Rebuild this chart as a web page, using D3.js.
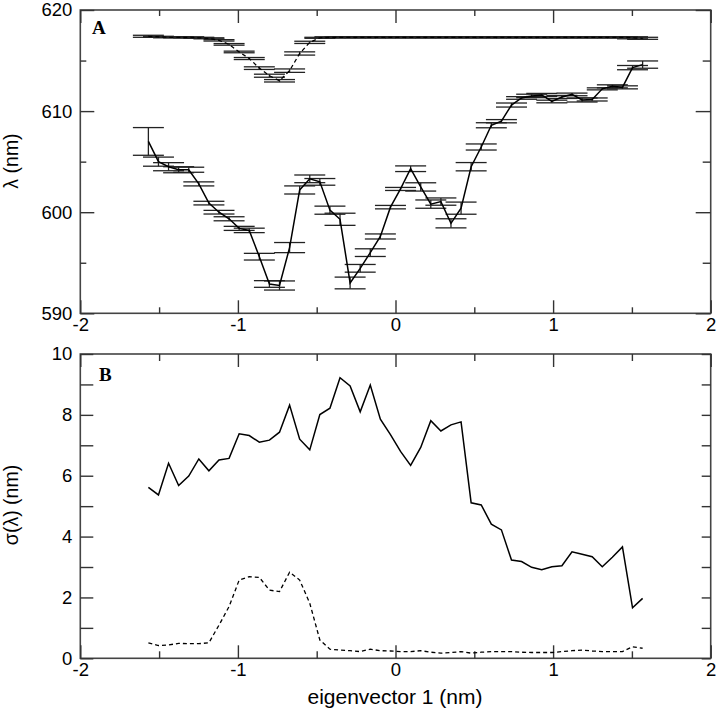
<!DOCTYPE html>
<html>
<head>
<meta charset="utf-8">
<script src="https://cdn.jsdelivr.net/npm/d3@7"></script>
<style>
  html, body { margin: 0; padding: 0; background: #fff; }
  svg { display: block; }
  .tick text { font-family: "Liberation Sans", Arial, sans-serif; font-size: 18.5px; fill: #000; }
</style>
</head>
<body>
<svg id="chart" width="720" height="720"></svg>
<script>
// ---------- data ----------
const eig = [-1.568,-1.504,-1.440,-1.376,-1.312,-1.248,-1.184,-1.120,-1.056,-0.992,
             -0.928,-0.864,-0.800,-0.736,-0.672,-0.608,-0.544,-0.480,-0.416,-0.352,
             -0.288,-0.224,-0.160,-0.096,-0.032, 0.032, 0.096, 0.160, 0.224, 0.288,
              0.352, 0.416, 0.480, 0.544, 0.608, 0.672, 0.736, 0.800, 0.864, 0.928,
              0.992, 1.056, 1.120, 1.184, 1.248, 1.312, 1.376, 1.440, 1.504, 1.568];

// panel A: mean wavelength (solid) with error
const lambdaSolid = [607.0,605.0,604.5,604.2,604.2,602.8,600.9,600.0,599.35,598.4,
                     598.2,595.6,592.9,592.75,596.5,602.2,603.3,603.0,600.2,599.3,
                     593.0,594.45,596.0,597.6,600.5,602.3,604.3,602.5,600.8,601.05,
                     598.9,600.4,604.5,606.45,608.6,609.0,610.6,611.3,611.5,611.6,
                     610.95,611.4,611.65,611.1,611.15,612.2,612.45,612.35,614.3,614.6];
const lambdaSolidErr = [1.37,0.45,0.4,0.3,0.25,0.2,0.18,0.18,0.2,0.2,
                        0.22,0.33,0.33,0.45,0.5,0.4,0.38,0.33,0.4,0.6,
                        0.58,0.38,0.38,0.25,0.17,0.15,0.28,0.41,0.41,0.36,
                        0.45,0.6,0.41,0.3,0.25,0.16,0.2,0.13,0.17,0.15,
                        0.13,0.15,0.13,0.2,0.15,0.1,0.15,0.15,0.21,0.36];
// panel A: mean wavelength (dashed) with error
const lambdaDashed = [617.4,617.35,617.3,617.3,617.3,617.25,617.2,617.0,616.6,615.85,
                      615.2,614.25,613.5,613.0,614.0,615.7,616.8,617.25,617.3,617.3,
                      617.3,617.3,617.3,617.3,617.3,617.3,617.3,617.3,617.3,617.3,
                      617.3,617.3,617.3,617.3,617.3,617.3,617.3,617.3,617.3,617.3,
                      617.3,617.3,617.3,617.3,617.3,617.3,617.3,617.3,617.25,617.2];
const lambdaDashedErr = [0.1,0.05,0.05,0.05,0.05,0.05,0.05,0.07,0.08,0.08,
                         0.1,0.13,0.15,0.12,0.17,0.16,0.11,0.05,0.05,0.05,
                         0.05,0.05,0.05,0.05,0.05,0.05,0.05,0.05,0.05,0.05,
                         0.05,0.05,0.05,0.05,0.05,0.05,0.05,0.05,0.05,0.05,
                         0.05,0.05,0.05,0.05,0.05,0.05,0.05,0.05,0.1,0.1];

// panel B: standard deviation of wavelength
const sigmaSolid = [5.62,5.37,6.41,5.68,5.99,6.55,6.16,6.52,6.57,7.38,
                    7.32,7.10,7.17,7.43,8.32,7.20,6.85,8.01,8.22,9.22,
                    8.95,8.10,8.98,7.86,7.35,6.80,6.34,6.93,7.81,7.47,
                    7.67,7.77,5.11,5.04,4.41,4.22,3.23,3.18,2.99,2.91,
                    3.01,3.04,3.50,3.42,3.34,3.01,3.32,3.66,1.66,1.97];
const sigmaDashed = [0.51,0.42,0.44,0.49,0.48,0.48,0.51,1.09,1.70,2.57,
                     2.68,2.66,2.24,2.19,2.83,2.57,1.81,0.60,0.30,0.27,
                     0.25,0.22,0.30,0.25,0.24,0.22,0.22,0.25,0.20,0.17,
                     0.19,0.22,0.17,0.20,0.22,0.22,0.22,0.20,0.19,0.19,
                     0.19,0.22,0.25,0.27,0.24,0.22,0.22,0.22,0.38,0.33];

const xTicksMajor = [-2,-1,0,1,2];
const xTicksMinor = [-1.5,-0.5,0.5,1.5];
const yATicksMajor = [590,600,610,620];
const yATicksMinor = [595,605,615];
const yBTicksLabeled = [0,2,4,6,8,10];
const yBTicksAll = [0,1,2,3,4,5,6,7,8,9,10];

// ---------- drawing ----------
const svg = d3.select("#chart");
svg.append("rect").attr("width",720).attr("height",720).attr("fill","#fff");

const x = d3.scaleLinear().domain([-2,2]).range([80.3,710.7]);
const yA = d3.scaleLinear().domain([590,620]).range([313.3,10]);
const yB = d3.scaleLinear().domain([0,10]).range([658.3,354]);

function frame(top, bottom) {
  svg.append("rect")
    .attr("x", x.range()[0]).attr("y", top)
    .attr("width", x.range()[1]-x.range()[0]).attr("height", bottom-top)
    .attr("fill","none").attr("stroke","#444").attr("stroke-width",1.6);
}

function styleAxis(g) {
  g.select(".domain").remove();
  g.selectAll(".tick line").attr("stroke","#333").attr("stroke-width",1.4);
}

function xAxes(top, bottom, majorLen, minorLen) {
  svg.append("g").attr("transform",`translate(0,${bottom})`)
    .call(d3.axisBottom(x).tickValues(xTicksMajor).tickSize(-majorLen).tickPadding(5)
      .tickFormat(d => d3.format("d")(d).replace("−","-")))
    .call(styleAxis);
  svg.append("g").attr("transform",`translate(0,${bottom})`)
    .call(d3.axisBottom(x).tickValues(xTicksMinor).tickSize(-minorLen).tickFormat(""))
    .call(styleAxis);
  svg.append("g").attr("transform",`translate(0,${top})`)
    .call(d3.axisTop(x).tickValues(xTicksMajor).tickSize(-majorLen).tickFormat(""))
    .call(styleAxis);
  svg.append("g").attr("transform",`translate(0,${top})`)
    .call(d3.axisTop(x).tickValues(xTicksMinor).tickSize(-minorLen).tickFormat(""))
    .call(styleAxis);
}

// ---------- Panel A ----------
frame(yA.range()[1], yA.range()[0]);
xAxes(yA.range()[1], yA.range()[0], 13, 6);
svg.append("g").attr("transform",`translate(${x.range()[0]},0)`)
  .call(d3.axisLeft(yA).tickValues(yATicksMajor).tickSize(-14).tickPadding(8).tickFormat(d3.format("d")))
  .call(styleAxis);
svg.append("g").attr("transform",`translate(${x.range()[0]},0)`)
  .call(d3.axisLeft(yA).tickValues(yATicksMinor).tickSize(-6).tickFormat(""))
  .call(styleAxis);
svg.append("g").attr("transform",`translate(${x.range()[1]},0)`)
  .call(d3.axisRight(yA).tickValues(yATicksMajor).tickSize(-15).tickFormat(""))
  .call(styleAxis);
svg.append("g").attr("transform",`translate(${x.range()[1]},0)`)
  .call(d3.axisRight(yA).tickValues(yATicksMinor).tickSize(-8).tickFormat(""))
  .call(styleAxis);

const capHalf = 15.5;
function errorBars(vals, errs, yScale) {
  const g = svg.append("g").attr("stroke","#222").attr("stroke-width",1.3).attr("fill","none");
  vals.forEach((v,i) => {
    const cx = x(eig[i]);
    const y1 = yScale(v+errs[i]), y2 = yScale(v-errs[i]);
    g.append("line").attr("x1",cx).attr("x2",cx).attr("y1",y1).attr("y2",y2);
    g.append("line").attr("x1",cx-capHalf).attr("x2",cx+capHalf).attr("y1",y1).attr("y2",y1);
    g.append("line").attr("x1",cx-capHalf).attr("x2",cx+capHalf).attr("y1",y2).attr("y2",y2);
  });
}
errorBars(lambdaDashed, lambdaDashedErr, yA);
errorBars(lambdaSolid, lambdaSolidErr, yA);

const lineA = d3.line().x((d,i)=>x(eig[i])).y(d=>yA(d));
svg.append("path").datum(lambdaSolid).attr("d",lineA)
  .attr("fill","none").attr("stroke","#000").attr("stroke-width",1.5);
svg.append("path").datum(lambdaDashed).attr("d",lineA)
  .attr("fill","none").attr("stroke","#000").attr("stroke-width",1.3).attr("stroke-dasharray","4,3");

svg.append("text").attr("x",92).attr("y",33.5).text("A")
  .attr("font-family","'Liberation Serif', 'Times New Roman', serif").attr("font-weight","bold")
  .attr("font-size",19);

svg.append("text").attr("transform","translate(18,161) rotate(-90)")
  .attr("text-anchor","middle")
  .attr("font-family","'Liberation Sans', Arial, sans-serif").attr("font-size",19.5)
  .text("λ (nm)");

// ---------- Panel B ----------
frame(yB.range()[1], yB.range()[0]);
xAxes(yB.range()[1], yB.range()[0], 13, 7);
svg.append("g").attr("transform",`translate(${x.range()[0]},0)`)
  .call(d3.axisLeft(yB).tickValues(yBTicksAll).tickSize(-13).tickFormat(""))
  .call(styleAxis);
svg.append("g").attr("transform",`translate(${x.range()[0]},0)`)
  .call(d3.axisLeft(yB).tickValues(yBTicksLabeled).tickSize(0).tickPadding(8).tickFormat(d3.format("d")))
  .call(styleAxis);
svg.append("g").attr("transform",`translate(${x.range()[1]},0)`)
  .call(d3.axisRight(yB).tickValues(yBTicksAll).tickSize(-9).tickFormat(""))
  .call(styleAxis);

const lineB = d3.line().x((d,i)=>x(eig[i])).y(d=>yB(d));
svg.append("path").datum(sigmaSolid).attr("d",lineB)
  .attr("fill","none").attr("stroke","#000").attr("stroke-width",1.5);
svg.append("path").datum(sigmaDashed).attr("d",lineB)
  .attr("fill","none").attr("stroke","#000").attr("stroke-width",1.3).attr("stroke-dasharray","4,3");

svg.append("text").attr("x",99).attr("y",380.5).text("B")
  .attr("font-family","'Liberation Serif', 'Times New Roman', serif").attr("font-weight","bold")
  .attr("font-size",19);

svg.append("text").attr("transform","translate(18,505) rotate(-90)")
  .attr("text-anchor","middle")
  .attr("font-family","'Liberation Sans', Arial, sans-serif").attr("font-size",19.5)
  .text("σ(λ) (nm)");

svg.append("text").attr("x",395).attr("y",704)
  .attr("text-anchor","middle")
  .attr("font-family","'Liberation Sans', Arial, sans-serif").attr("font-size",21)
  .text("eigenvector 1 (nm)");
</script>
</body>
</html>
